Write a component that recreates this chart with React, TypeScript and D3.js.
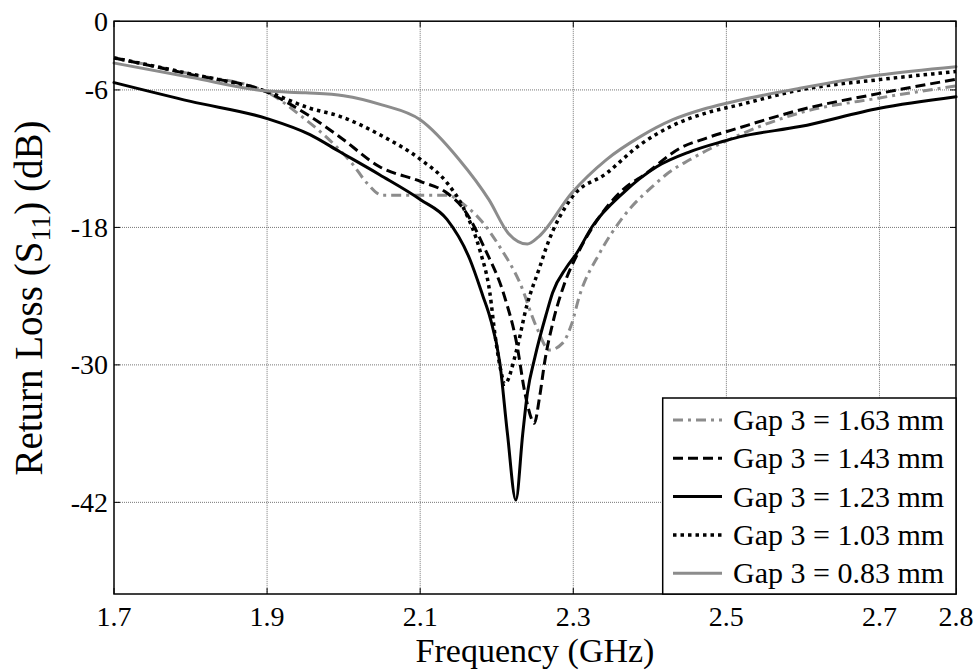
import React from "react";
import * as d3 from "d3";

const xTicks = [1.7, 1.9, 2.1, 2.3, 2.5, 2.7, 2.8];
const yTicks = [0, -6, -18, -30, -42];

const legendLabels = [
  "Gap 3 = 1.63 mm",
  "Gap 3 = 1.43 mm",
  "Gap 3 = 1.23 mm",
  "Gap 3 = 1.03 mm",
  "Gap 3 = 0.83 mm",
];

const freq163 = [1.7, 1.8, 1.9, 1.943, 1.982, 2.012, 2.03, 2.051, 2.1, 2.135, 2.161, 2.182, 2.204, 2.23, 2.252, 2.269, 2.286, 2.298, 2.308, 2.334, 2.365, 2.409, 2.421, 2.452, 2.495, 2.596, 2.7, 2.8];
const db163 = [-3.2, -4.6, -6.2, -8.2, -10.4, -12.5, -14.1, -15.2, -15.2, -15.2, -16.2, -17.6, -19.7, -22.8, -26.7, -28.7, -28.1, -26.4, -24.0, -20.3, -17.1, -14.1, -13.4, -12.1, -10.6, -8.0, -6.7, -5.65];

const freq143 = [1.7, 1.8, 1.9, 1.956, 1.995, 2.047, 2.101, 2.135, 2.158, 2.184, 2.21, 2.226, 2.237, 2.246, 2.249, 2.256, 2.263, 2.273, 2.288, 2.308, 2.334, 2.365, 2.395, 2.439, 2.474, 2.517, 2.596, 2.7, 2.8];
const db143 = [-3.2, -4.65, -6.2, -8.3, -10.1, -12.7, -14.0, -15.0, -16.5, -19.8, -24.0, -28.1, -32.5, -34.8, -35.1, -32.8, -29.6, -26.4, -23.0, -20.0, -17.1, -14.7, -13.3, -11.1, -10.2, -9.3, -7.75, -6.3, -5.07];

const freq123 = [1.7, 1.8, 1.9, 1.956, 1.995, 2.047, 2.101, 2.135, 2.165, 2.182, 2.191, 2.204, 2.214, 2.225, 2.234, 2.24, 2.25, 2.265, 2.273, 2.291, 2.304, 2.325, 2.365, 2.409, 2.452, 2.495, 2.517, 2.596, 2.7, 2.8];
const db123 = [-5.36, -7.0, -8.5, -9.9, -11.4, -13.4, -15.6, -17.3, -20.8, -24.0, -25.8, -29.8, -36.0, -41.8, -36.0, -32.5, -29.3, -25.5, -23.7, -21.5, -20.3, -17.9, -15.0, -12.7, -11.4, -10.5, -10.1, -9.2, -7.6, -6.6];

const freq103 = [1.7, 1.8, 1.9, 1.956, 1.995, 2.047, 2.101, 2.135, 2.158, 2.178, 2.191, 2.198, 2.207, 2.21, 2.226, 2.239, 2.256, 2.265, 2.298, 2.343, 2.387, 2.43, 2.474, 2.517, 2.596, 2.7, 2.8];
const db103 = [-3.2, -4.6, -6.15, -7.6, -8.3, -9.9, -12.1, -14.1, -16.5, -20.0, -23.7, -27.5, -31.0, -31.7, -28.7, -24.9, -21.5, -19.7, -15.4, -13.3, -10.8, -9.1, -8.0, -7.3, -6.0, -5.1, -4.4];

const freq083 = [1.7, 1.8, 1.9, 1.95, 2.0, 2.05, 2.1, 2.15, 2.19, 2.215, 2.24, 2.255, 2.298, 2.343, 2.387, 2.43, 2.474, 2.517, 2.596, 2.7, 2.8];
const db083 = [-3.65, -4.9, -6.1, -6.25, -6.5, -7.3, -8.6, -12.0, -15.6, -18.5, -19.45, -18.8, -15.0, -12.1, -10.1, -8.6, -7.6, -6.9, -5.86, -4.7, -3.97];

const GRAY = "#8c8c8c";

type Style = { color: string; dash: string; width: number; cap: string };
const styles: Style[] = [
  { color: GRAY, dash: "10,5,3,5", width: 3, cap: "butt" },
  { color: "#000", dash: "10,5", width: 3, cap: "butt" },
  { color: "#000", dash: "none", width: 3, cap: "round" },
  { color: "#000", dash: "3.5,4", width: 3.5, cap: "butt" },
  { color: GRAY, dash: "none", width: 3, cap: "round" },
];

const seriesFreqs = [freq163, freq143, freq123, freq103, freq083];
const seriesDbs = [db163, db143, db123, db103, db083];

export default function App() {
  const W = 977;
  const H = 670;
  const left = 114, right = 956, top = 21.2, bottom = 594;
  const x = d3.scaleLinear().domain([1.7, 2.8]).range([left, right]);
  const y = d3.scaleLinear().domain([0, -50]).range([top, bottom]);
  const line = d3
    .line<[number, number]>()
    .x((d) => x(d[0]))
    .y((d) => y(d[1]))
    .curve(d3.curveMonotoneX);

  const font = "'Liberation Serif', 'Times New Roman', serif";
  const lgLeft = 662.7, lgTop = 398, lgRow = 38.3;

  return (
    <svg
      width={W}
      height={H}
      style={{ position: "absolute", left: 0, top: 0, background: "#fff" }}
      fontFamily={font}
    >
      <rect x={0} y={0} width={W} height={H} fill="#fff" />
      {/* grid */}
      {xTicks
        .filter((t) => t > 1.7 && t < 2.8)
        .map((t) => (
          <line key={"gx" + t} x1={x(t)} x2={x(t)} y1={top} y2={bottom} stroke="#777" strokeWidth={1} strokeDasharray="1,1" />
        ))}
      {yTicks
        .filter((t) => t < 0)
        .map((t) => (
          <line key={"gy" + t} x1={left} x2={right} y1={y(t)} y2={y(t)} stroke="#777" strokeWidth={1} strokeDasharray="1,1" />
        ))}
      {/* ticks */}
      {xTicks.map((t) => (
        <g key={"tx" + t}>
          <line x1={x(t)} x2={x(t)} y1={bottom} y2={bottom - 6} stroke="#000" strokeWidth={1} />
          <line x1={x(t)} x2={x(t)} y1={top} y2={top + 6} stroke="#000" strokeWidth={1} />
          <text x={x(t)} y={626} fontSize={28} textAnchor="middle" fill="#000">
            {d3.format(".1f")(t)}
          </text>
        </g>
      ))}
      {yTicks.map((t) => (
        <g key={"ty" + t}>
          <line x1={left} x2={left + 6} y1={y(t)} y2={y(t)} stroke="#000" strokeWidth={1} />
          <line x1={right} x2={right - 6} y1={y(t)} y2={y(t)} stroke="#000" strokeWidth={1} />
          <text x={108} y={y(t) + 9.5} fontSize={28} textAnchor="end" fill="#000">
            {t === 0 ? "0" : "-" + Math.abs(t)}
          </text>
        </g>
      ))}
      {/* curves */}
      {seriesFreqs.map((fs, i) => {
        const pts: [number, number][] = fs.map((f, j) => [f, seriesDbs[i][j]]);
        const s = styles[i];
        return (
          <path
            key={"s" + i}
            d={line(pts) || ""}
            fill="none"
            stroke={s.color}
            strokeWidth={s.width}
            strokeDasharray={s.dash}
            strokeLinecap={s.cap as any}
            strokeLinejoin="round"
          />
        );
      })}
      {/* axes box */}
      <rect x={left} y={top} width={right - left} height={bottom - top} fill="none" stroke="#000" strokeWidth={1.5} />
      {/* legend */}
      <rect x={lgLeft} y={lgTop} width={right - lgLeft} height={bottom - lgTop} fill="#fff" stroke="#000" strokeWidth={1.5} />
      {legendLabels.map((lab, i) => {
        const yy = lgTop + 22 + i * lgRow;
        const s = styles[i];
        return (
          <g key={"lg" + i}>
            <line
              x1={673}
              x2={722}
              y1={yy}
              y2={yy}
              stroke={s.color}
              strokeWidth={s.width}
              strokeDasharray={s.dash}
              strokeLinecap={"butt"}
            />
            <text x={733} y={yy + 10} fontSize={30} fill="#000">
              {lab}
            </text>
          </g>
        );
      })}
      {/* axis labels */}
      <text x={(left + right) / 2} y={662} fontSize={34} textAnchor="middle" fill="#000">
        Frequency (GHz)
      </text>
      <text transform={`translate(42,298) rotate(-90)`} fontSize={39} textAnchor="middle" fill="#000">
        Return Loss (S
        <tspan fontSize={28} dy={8}>11</tspan>
        <tspan dy={-8}>) (dB)</tspan>
      </text>
    </svg>
  );
}
